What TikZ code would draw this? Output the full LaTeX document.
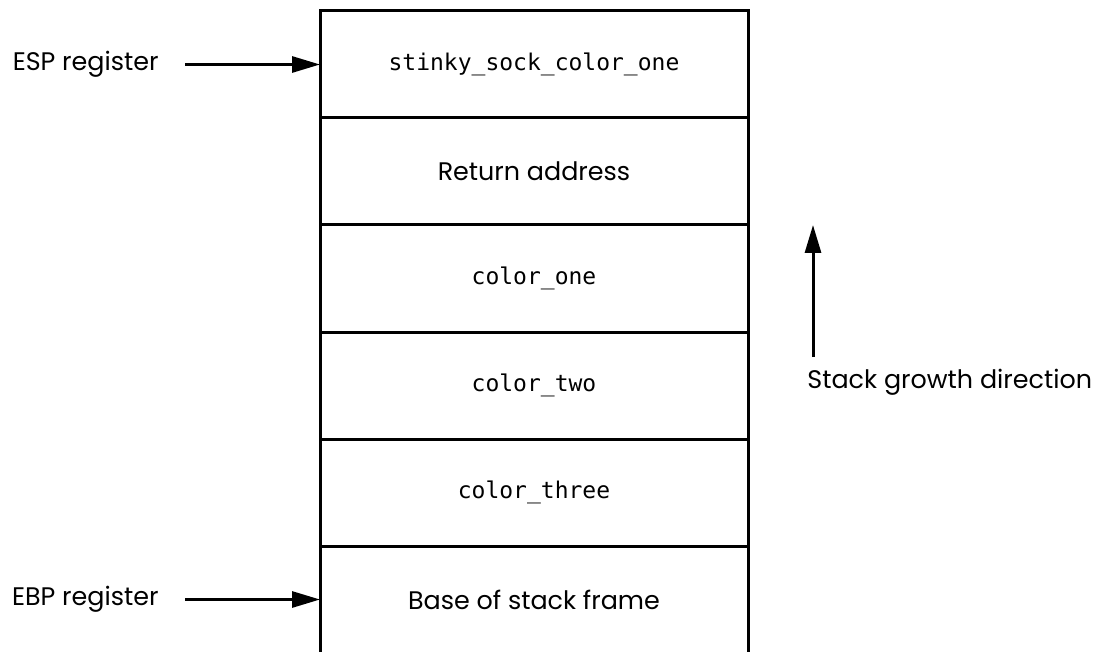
\documentclass[tikz,border=0pt]{standalone}
\usepackage{fontspec}
\setsansfont{Poppins}
\setmonofont{DejaVu Sans Mono}
\usetikzlibrary{positioning,arrows.meta}

\begin{document}
\begin{tikzpicture}[x=0.5pt, y=-0.5pt, font=\sffamily\fontsize{12.7}{15}\selectfont,
    cell/.style = {rectangle, draw, line width=1.5pt, minimum width=214pt, minimum height=53.5pt, outer sep=0pt, inner sep=0pt},
    var/.style = {cell, font=\ttfamily\fontsize{11.5}{14}\selectfont},
    reg/.style = {inner sep=0pt},
    ptr/.style = {-{Triangle[length=14pt, width=8pt]}, line width=1.5pt}]
    \useasboundingbox (0,0) rectangle (1102,652);
    % the stack frame, top to bottom
    \node[var] (sock) at (534,64.5) {stinky\_sock\_color\_one};
    \node[cell] (ret) [below=0pt of sock] {Return address};
    \node[var] (one) [below=0pt of ret] {color\_one};
    \node[var] (two) [below=0pt of one] {color\_two};
    \node[var] (three) [below=0pt of two] {color\_three};
    \node[cell] (base) [below=0pt of three] {Base of stack frame};
    % registers
    \node[reg] (esp) [left=80.5pt of sock.west] {ESP register};
    \node[reg] (ebp) [left=80.5pt of base.west] {EBP register};
    \draw[ptr] ([xshift=13pt]esp.east) -- (sock.west);
    \draw[ptr] ([xshift=13pt]ebp.east) -- (base.west);
    % growth direction
    \node[reg, anchor=north west] (grow) at (807,369) {Stack growth direction};
    \coordinate (tail) at (813,357);
    \coordinate (head) at (813,225);
    \draw[ptr] (tail) -- (head);
\end{tikzpicture}
\end{document}
